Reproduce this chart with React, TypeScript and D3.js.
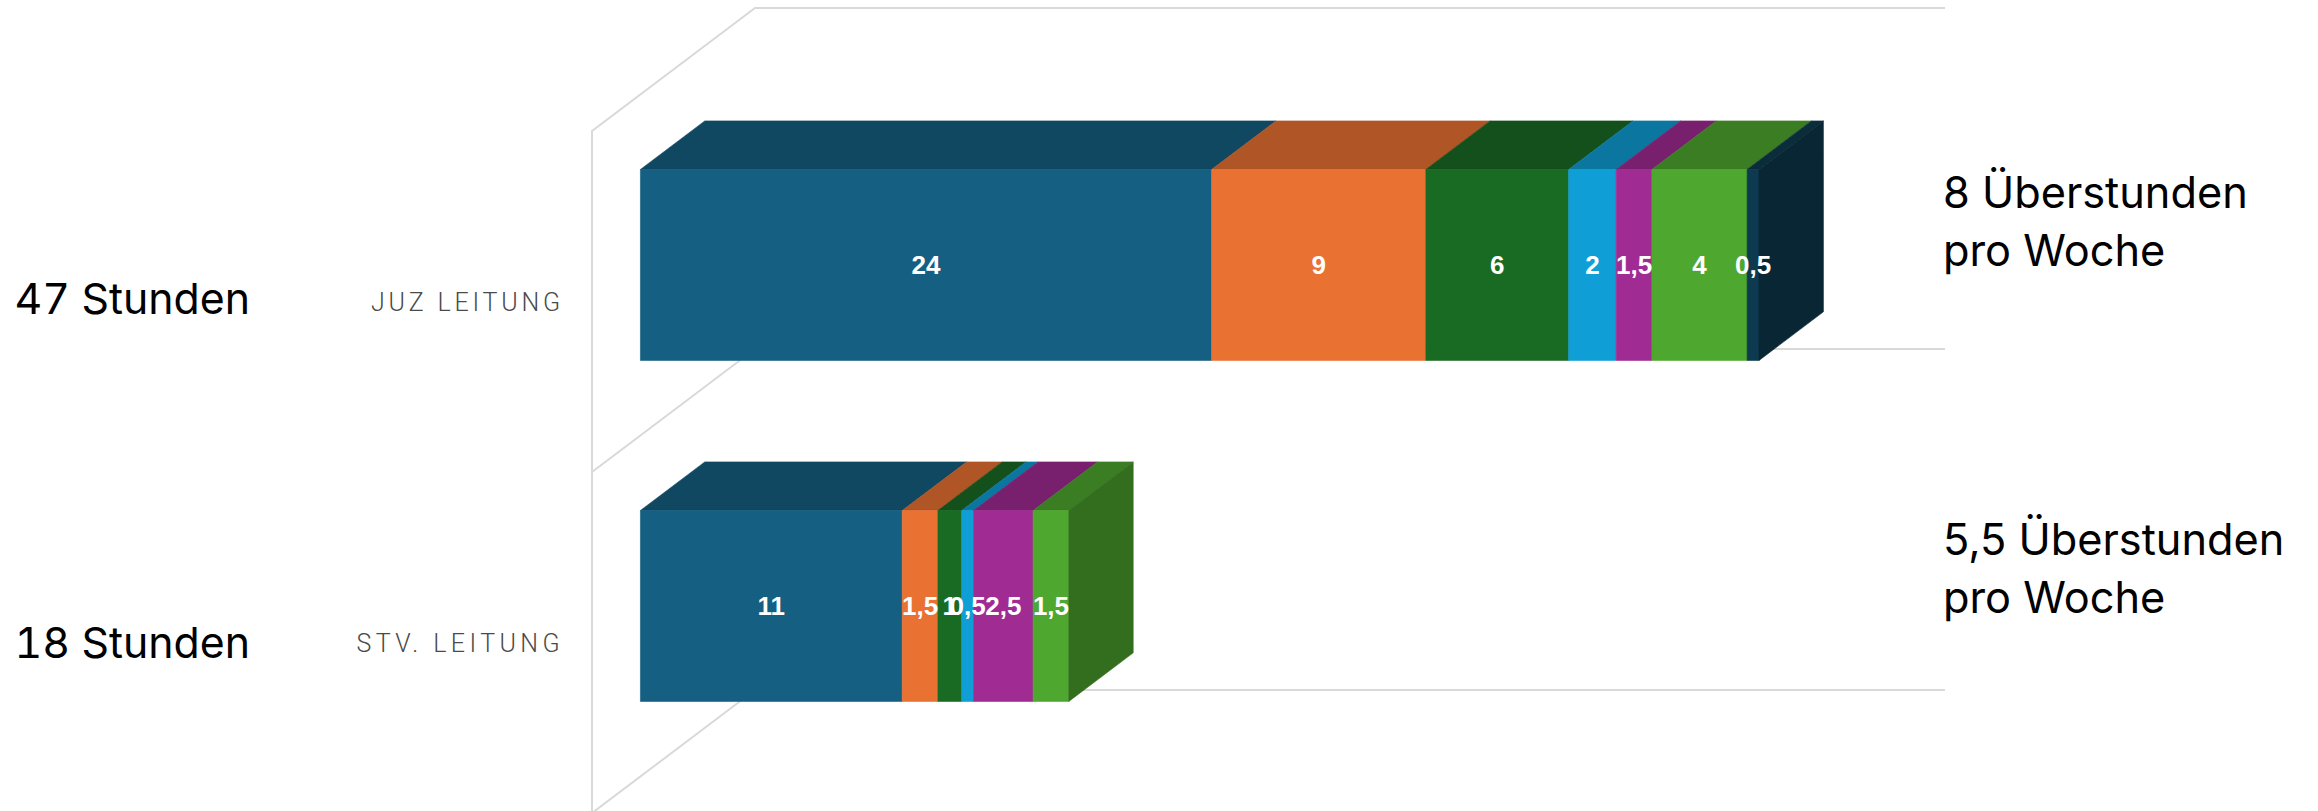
import { useRef, useEffect } from 'react'
import * as d3 from 'd3'

const categories = ['JUZ LEITUNG', 'STV. LEITUNG']
const totals = ['47 Stunden', '18 Stunden']
const overtimeTop = ['8 Überstunden', '5,5 Überstunden']
const overtimeBottom = ['pro Woche', 'pro Woche']

const seriesA = [24, 11]
const seriesB = [9, 1.5]
const seriesC = [6, 1]
const seriesD = [2, 0.5]
const seriesE = [1.5, 2.5]
const seriesF = [4, 1.5]
const seriesG = [0.5, 0]
const allSeries = [seriesA, seriesB, seriesC, seriesD, seriesE, seriesF, seriesG]
const colors = ['#156082', '#E97132', '#196B24', '#0F9ED5', '#A02B93', '#4EA72E', '#0D3A4E']

const shade = (c: string, k: number) => {
  const r = d3.rgb(c)
  return d3.rgb(r.r * k, r.g * k, r.b * k).formatHex()
}

const App = () => {
  const ref = useRef<SVGSVGElement>(null)

  useEffect(() => {
    if (!ref.current) return
    const svg = d3.select(ref.current)
    svg.selectAll('*').remove()

    const x = d3.scaleLinear().domain([0, 50]).range([592, 1782])
    const y = d3.scaleBand<string>().domain(categories).range([131, 813]).paddingInner(0.44).paddingOuter(0.22)
    // oblique projection: depth 0 = front plane, depth 1 = back wall
    const depthX = d3.scaleLinear().domain([0, 1]).range([0, 163])
    const depthY = d3.scaleLinear().domain([0, 1]).range([0, -123])
    const pt = (px: number, py: number, d: number): [number, number] => [px + depthX(d), py + depthY(d)]
    const line = d3.line()
    const front = 0.297
    const back = 0.692

    // walls
    const walls = svg.append('g').attr('fill', 'none').attr('stroke', '#d9d9d9').attr('stroke-width', 2)
    const [y0, y1] = y.range()
    const step = y.step()
    walls.append('path').attr('d', line([pt(x(50), y0, 1), pt(x(0), y0, 1), pt(x(0), y0, 0), [x(0), y1]]))
    d3.range(1, 3).forEach(i => {
      walls.append('path').attr('d', line([pt(x(0), y0 + i * step, 0), pt(x(0), y0 + i * step, 1), pt(x(50), y0 + i * step, 1)]))
    })

    // bars
    const rows = categories.map((c, i) => {
      const row: Record<string, number | string> = { category: c }
      allSeries.forEach((s, k) => (row['s' + k] = s[i]))
      return row
    })
    const keys = allSeries.map((_, k) => 's' + k)
    const stacked = d3.stack<any>().keys(keys)(rows)

    const bars = svg.append('g').attr('stroke-width', 0.6)
    categories.forEach((c, i) => {
      const top = y(c) as number
      const bottom = top + y.bandwidth()
      stacked.forEach((layer, k) => {
        const [a, b] = layer[i]
        if (b === a) return
        const ax = x(a)
        const bx = x(b)
        const topFill = shade(colors[k], 0.75)
        bars.append('path')
          .attr('d', line([pt(ax, top, front), pt(ax, top, back), pt(bx, top, back), pt(bx, top, front)]) + 'Z')
          .attr('fill', topFill)
          .attr('stroke', topFill)
        bars.append('path')
          .attr('d', line([pt(ax, top, front), pt(bx, top, front), pt(bx, bottom, front), pt(ax, bottom, front)]) + 'Z')
          .attr('fill', colors[k])
          .attr('stroke', colors[k])
      })
      // end cap takes the colour of the last non-empty series
      const lastK = d3.max(stacked, (layer, k) => (layer[i][1] > layer[i][0] ? k : -1)) as number
      const end = x(stacked[lastK][i][1])
      const sideFill = shade(colors[lastK], 0.65)
      bars.append('path')
        .attr('d', line([pt(end, top, front), pt(end, top, back), pt(end, bottom, back), pt(end, bottom, front)]) + 'Z')
        .attr('fill', sideFill)
        .attr('stroke', sideFill)
    })

    // value labels
    const labels = svg.append('g')
      .attr('font-family', '"Liberation Sans", Arial, sans-serif')
      .attr('font-weight', 700)
      .attr('font-size', 26)
      .attr('fill', '#fff')
      .attr('text-anchor', 'middle')
    const fmt = (v: number) => String(v).replace('.', ',')
    categories.forEach((c, i) => {
      const mid = (y(c) as number) + y.bandwidth() / 2
      stacked.forEach(layer => {
        const [a, b] = layer[i]
        if (b === a) return
        const [lx, ly] = pt(x((a + b) / 2), mid, front)
        labels.append('text').attr('x', lx).attr('y', ly + 9).text(fmt(b - a))
      })
    })

    // text columns
    const big = svg.append('g').attr('font-family', 'Inter, sans-serif').attr('font-size', 43.3).attr('fill', '#000')
    const small = svg.append('g')
      .attr('font-family', 'Roboto, sans-serif')
      .attr('font-weight', 300)
      .attr('font-size', 25)
      .attr('fill', '#4a4a4a')
      .attr('text-anchor', 'end')
    const baselines = [[313.5, 311, 208, 266], [657.5, 652, 555, 613]]
    const spacing = [3.8, 4.4]
    categories.forEach((c, i) => {
      const [b0, b1, b2, b3] = baselines[i]
      big.append('text')
        .attr('x', 250)
        .attr('y', b0)
        .attr('text-anchor', 'end')
        .attr('font-size', 42.8)
        .style('font-feature-settings', '"tnum"')
        .text(totals[i])
      small.append('text').attr('x', 564).attr('y', b1).attr('letter-spacing', spacing[i]).text(c)
      big.append('text').attr('x', 1943).attr('y', b2).text(overtimeTop[i])
      big.append('text').attr('x', 1943).attr('y', b3).text(overtimeBottom[i])
    })
  }, [])

  return (
    <svg
      ref={ref}
      width={2318}
      height={811}
      style={{ position: 'absolute', left: 0, top: 0, display: 'block', background: '#fff' }}
    />
  )
}

export default App
